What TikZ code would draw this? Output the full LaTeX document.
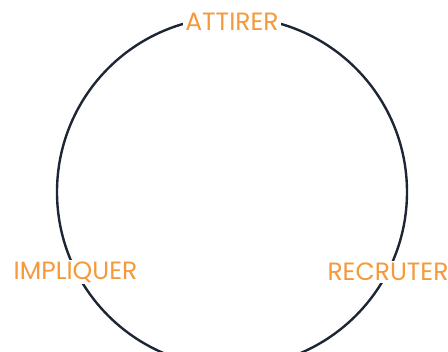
\documentclass[tikz,border=0pt]{standalone}
\usepackage{fontspec}
\setmainfont{Poppins}
\usepackage{tikz}

\definecolor{ringcol}{HTML}{1E2535}
\definecolor{labelcol}{HTML}{F5993B}

\begin{document}
\begin{tikzpicture}[x=1pt,y=1pt, every node/.style={font=\fontsize{25}{25}\selectfont, text=labelcol}]
                \useasboundingbox (0,0) rectangle (448,352);
                \coordinate (c) at (232,160);
                \draw[ringcol, line width=2.4pt] (c) circle (175);

                \node[fill=white, inner sep=2pt] (attirer) at (232,330) {ATTIRER};
                \node[fill=white, inner sep=2pt] (impliquer) at (75.5,80) {IMPLIQUER};
                \node[fill=white, inner sep=2pt] (recruter) at (388,80) {RECRUTER};
            \end{tikzpicture}
\end{document}
